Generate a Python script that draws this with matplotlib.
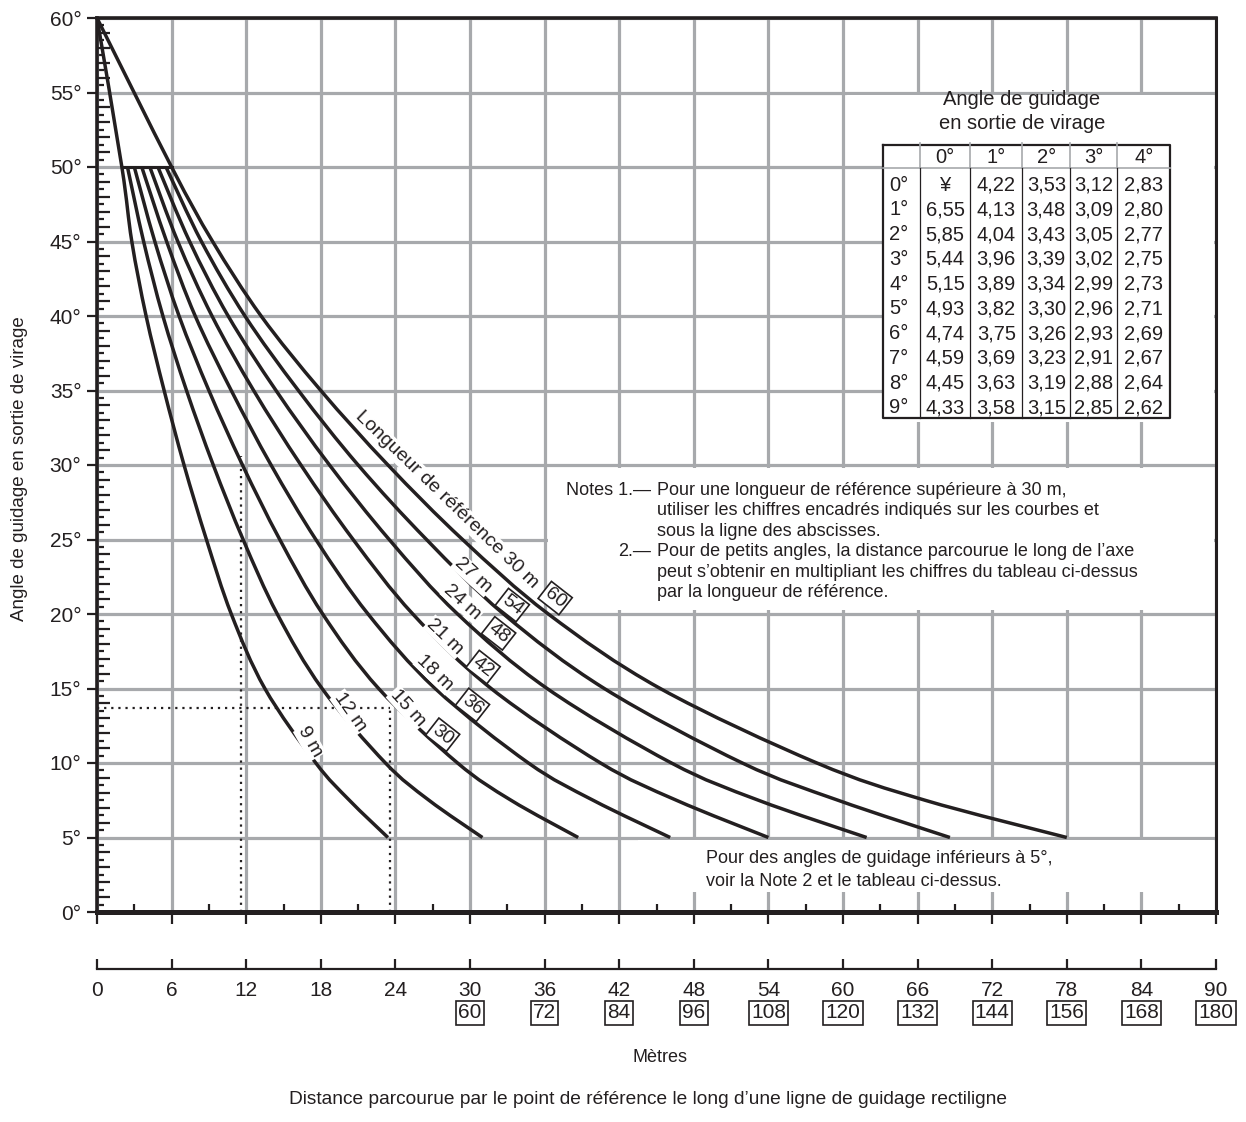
import numpy as np
import matplotlib
matplotlib.use('Agg')
import matplotlib.pyplot as plt
from matplotlib.patches import Rectangle, PathPatch
from matplotlib.path import Path
from matplotlib.ticker import MultipleLocator, FuncFormatter

plt.rcParams['font.family'] = ['Liberation Sans', 'DejaVu Sans']

INK = '#231f20'
GRID = '#a7a9ac'
FS_TICK = 15
FS_TEXT = 13
FS_TAB = 14.5
FS_LAB = 14

# guidance curves, angle (deg) -> distance travelled (m)
angles_full = [60, 50, 45, 40, 35, 30, 25, 20, 15, 10, 7.5, 5]
angles_bar = [50, 45, 40, 35, 30, 25, 20, 15, 10, 7.5, 5]
dist_9 = [0, 2.0, 2.8, 3.95, 5.4, 7.0, 8.8, 10.8, 13.5, 17.6, 20.3, 23.4]
dist_12 = [2.45, 3.75, 5.3, 7.2, 9.35, 11.75, 14.5, 18.1, 23.2, 26.7, 31.0]
dist_15 = [3.0, 4.65, 6.6, 9.0, 11.7, 14.7, 18.15, 22.65, 29.0, 33.3, 38.7]
dist_18 = [3.6, 5.6, 7.9, 10.8, 14.0, 17.6, 21.8, 27.2, 34.7, 39.9, 46.1]
dist_21 = [4.25, 6.5, 9.25, 12.6, 16.4, 20.6, 25.4, 31.7, 40.5, 46.6, 54.0]
dist_24 = [4.9, 7.45, 10.55, 14.4, 18.7, 23.5, 29.0, 36.2, 46.2, 53.2, 61.9]
dist_27 = [5.55, 8.4, 11.9, 16.2, 21.0, 26.5, 32.7, 40.8, 51.9, 59.6, 68.6]
dist_30 = [0, 6.0, 9.3, 13.2, 18.0, 23.4, 29.4, 36.3, 45.3, 57.9, 66.6, 78.0]
bar_x = [2.0, 6.0]
bar_angle = 50

# dotted example
ex_x1, ex_top1 = 11.6, 30.6
ex_x2, ex_angle2 = 23.6, 13.7

# table
table_cols = ['0°', '1°', '2°', '3°', '4°']
table_rows = ['0°', '1°', '2°', '3°', '4°', '5°', '6°', '7°', '8°', '9°']
table_vals = [
    ['¥', '4,22', '3,53', '3,12', '2,83'],
    ['6,55', '4,13', '3,48', '3,09', '2,80'],
    ['5,85', '4,04', '3,43', '3,05', '2,77'],
    ['5,44', '3,96', '3,39', '3,02', '2,75'],
    ['5,15', '3,89', '3,34', '2,99', '2,73'],
    ['4,93', '3,82', '3,30', '2,96', '2,71'],
    ['4,74', '3,75', '3,26', '2,93', '2,69'],
    ['4,59', '3,69', '3,23', '2,91', '2,67'],
    ['4,45', '3,63', '3,19', '2,88', '2,64'],
    ['4,33', '3,58', '3,15', '2,85', '2,62'],
]

x_ticks = list(range(0, 91, 6))
x_boxed = [60, 72, 84, 96, 108, 120, 132, 144, 156, 168, 180]


def smooth_path(xs, ys):
    """Catmull-Rom curve through the given points, as bezier path"""
    pts = np.column_stack([xs, ys]).astype(float)
    verts = [pts[0]]
    codes = [Path.MOVETO]
    n = len(pts)
    for i in range(n - 1):
        p0 = pts[i - 1] if i > 0 else pts[i]
        p1, p2 = pts[i], pts[i + 1]
        p3 = pts[i + 2] if i + 2 < n else pts[i + 1]
        verts += [p1 + (p2 - p0) / 6.0, p2 - (p3 - p1) / 6.0, p2]
        codes += [Path.CURVE4] * 3
    return Path(verts, codes)


fig = plt.figure(figsize=(12.46, 11.22), dpi=100)
ax = fig.add_axes([97 / 1246, 210 / 1122, 1119 / 1246, 894 / 1122])
ax.set_xlim(0, 90)
ax.set_ylim(0, 60)

ax.xaxis.set_major_locator(MultipleLocator(6))
ax.xaxis.set_minor_locator(MultipleLocator(3))
ax.yaxis.set_major_locator(MultipleLocator(5))
ax.yaxis.set_minor_locator(MultipleLocator(1))
ax.yaxis.set_major_formatter(FuncFormatter(lambda v, p: '{}°'.format(int(v))))
ax.grid(which='major', color=GRID, lw=2.3)
ax.set_axisbelow(True)
ax.tick_params(axis='x', which='major', direction='out', length=8.6, width=1.6,
               color=INK, labelbottom=False)
ax.tick_params(axis='x', which='minor', direction='in', length=5.8, width=1.6, color=INK)
ax.tick_params(axis='y', which='major', direction='out', length=7.2, width=1.6,
               color=INK, labelsize=FS_TICK, labelcolor=INK, pad=4)
ax.tick_params(axis='y', which='minor', direction='in', length=9.4, width=1.6, color=INK)
sec = ax.secondary_yaxis('left')
sec.set_yticks(np.arange(0.5, 60, 1))
sec.tick_params(direction='in', length=5, width=1.6, color=INK, labelleft=False)
sec.spines['left'].set_visible(False)

for side, lw in [('left', 2.6), ('bottom', 3.6), ('top', 2.6), ('right', 2.2)]:
    ax.spines[side].set_color(INK)
    ax.spines[side].set_linewidth(lw)

# white areas behind the notes and the table
for x0, y0, x1, y1 in [(60.3, 50.3, 89.85, 54.8), (63.2, 32.9, 89.85, 50.3),
                       (36.3, 20.25, 89.85, 29.8), (43.5, 1.35, 89.85, 4.85)]:
    ax.add_patch(Rectangle((x0, y0), x1 - x0, y1 - y0, fc='white', ec='none', zorder=1))

curves = [(dist_9, angles_full), (dist_12, angles_bar), (dist_15, angles_bar),
          (dist_18, angles_bar), (dist_21, angles_bar), (dist_24, angles_bar),
          (dist_27, angles_bar), (dist_30, angles_full)]
for d, a in curves:
    ax.add_patch(PathPatch(smooth_path(d, a), fc='none', ec=INK, lw=2.5,
                           capstyle='butt', zorder=2))
ax.plot(bar_x, [bar_angle, bar_angle], color=INK, lw=2.2, zorder=2)

dot = dict(color=INK, lw=1.6, ls=(0, (1, 2.2)), zorder=2)
ax.plot([ex_x1, ex_x1], [0, ex_top1], **dot)
ax.plot([0, ex_x2], [ex_angle2, ex_angle2], **dot)
ax.plot([ex_x2, ex_x2], [0, ex_angle2], **dot)

# curve labels
lab = dict(fontsize=FS_LAB, color=INK, ha='center', va='center', rotation_mode='anchor', zorder=3,
           bbox=dict(boxstyle='square,pad=0.05', fc='white', ec='none'))
box = dict(fontsize=FS_LAB, color=INK, ha='center', va='center', rotation_mode='anchor', zorder=3,
           bbox=dict(boxstyle='square,pad=0.12', fc='white', ec=INK, lw=1.2))
ax.text(28.1, 27.65, 'Longueur de référence 30 m', rotation=-44, **lab)
ax.text(36.85, 21.07, '60', rotation=-38, **box)
ax.text(30.25, 22.6, '27 m', rotation=-42, **lab)
ax.text(33.4, 20.6, '54', rotation=-38, **box)
ax.text(29.4, 20.8, '24 m', rotation=-42, **lab)
ax.text(32.3, 18.7, '48', rotation=-38, **box)
ax.text(28.0, 18.46, '21 m', rotation=-44, **lab)
ax.text(31.05, 16.44, '42', rotation=-38, **box)
ax.text(27.2, 16.04, '18 m', rotation=-44, **lab)
ax.text(30.2, 13.9, '36', rotation=-38, **box)
ax.text(25.0, 13.7, '15 m', rotation=-48, **lab)
ax.text(27.8, 11.9, '30', rotation=-38, **box)
ax.text(20.35, 13.4, '12 m', rotation=-55, **lab)
ax.text(17.1, 11.4, '9 m', rotation=-60, **lab)

# notes
notes = [('Notes 1.—', 'Pour une longueur de référence supérieure à 30 m,'),
         ('', 'utiliser les chiffres encadrés indiqués sur les courbes et'),
         ('', 'sous la ligne des abscisses.'),
         ('2.—', 'Pour de petits angles, la distance parcourue le long de l’axe'),
         ('', 'peut s’obtenir en multipliant les chiffres du tableau ci-dessus'),
         ('', 'par la longueur de référence.')]
for i, (head, body) in enumerate(notes):
    yy = 28.32 - i * 1.382
    if head:
        ax.text(44.55, yy, head, fontsize=FS_TEXT, color=INK, ha='right', va='center', zorder=3)
    ax.text(45.05, yy, body, fontsize=FS_TEXT, color=INK, ha='left', va='center', zorder=3)

ax.text(49.0, 3.62, 'Pour des angles de guidage inférieurs à 5°,', fontsize=FS_TEXT, color=INK,
        ha='left', va='center', zorder=3)
ax.text(49.0, 2.08, 'voir la Note 2 et le tableau ci-dessus.', fontsize=FS_TEXT, color=INK,
        ha='left', va='center', zorder=3)

# table
ax.text(74.4, 54.5, 'Angle de guidage', fontsize=FS_TAB, color=INK, ha='center', va='center', zorder=3)
ax.text(74.4, 52.9, 'en sortie de virage', fontsize=FS_TAB, color=INK, ha='center', va='center', zorder=3)
col_edges = [63.23, 66.21, 70.23, 74.42, 78.28, 82.06, 86.32]
t_top, t_head, t_bot = 51.48, 49.93, 33.15
ax.plot([col_edges[0], col_edges[-1], col_edges[-1], col_edges[0], col_edges[0]],
        [t_top, t_top, t_bot, t_bot, t_top], color=INK, lw=1.6, zorder=3)
ax.plot([col_edges[0], col_edges[-1]], [t_head, t_head], color=GRID, lw=1.2, zorder=3)
for xe in col_edges[1:-1]:
    ax.plot([xe, xe], [t_head, t_top + 0.15], color=GRID, lw=1.2, zorder=3)
    ax.plot([xe, xe], [t_bot, t_head], color=INK, lw=0.9, zorder=3)
for j, c in enumerate(table_cols):
    ax.text((col_edges[j + 1] + col_edges[j + 2]) / 2, 50.67, c, fontsize=FS_TAB, color=INK,
            ha='center', va='center', zorder=3)
for i, r in enumerate(table_rows):
    yy = 48.79 - i * 1.662
    ax.text(64.5, yy, r, fontsize=FS_TAB, color=INK, ha='center', va='center', zorder=3)
    for j, v in enumerate(table_vals[i]):
        ax.text((col_edges[j + 1] + col_edges[j + 2]) / 2, yy, v, fontsize=FS_TAB, color=INK,
                ha='center', va='center', zorder=3)

# second scale below the plot
ax2 = fig.add_axes([97 / 1246, (1122 - 969) / 1122, 1119 / 1246, 0.01])
ax2.set_xlim(0, 90)
ax2.patch.set_visible(False)
for side in ['top', 'left', 'right']:
    ax2.spines[side].set_visible(False)
ax2.spines['bottom'].set_color(INK)
ax2.spines['bottom'].set_linewidth(1.6)
ax2.set_yticks([])
ax2.set_xticks(x_ticks)
ax2.set_xticklabels([str(v) for v in x_ticks])
ax2.tick_params(axis='x', direction='in', length=7.2, width=1.6, color=INK,
                labelsize=FS_TICK, labelcolor=INK, pad=9)
for xv, bv in zip(x_ticks[5:], x_boxed):
    ax2.annotate(str(bv), xy=(xv, 0), xycoords=('data', 'axes fraction'), xytext=(0, -44),
                 textcoords='offset pixels', fontsize=FS_TICK, color=INK, ha='center', va='center',
                 bbox=dict(boxstyle='square,pad=0.1', fc='white', ec=INK, lw=1.2))

fig.text(660 / 1246, 1 - 1058 / 1122, 'Mètres', fontsize=FS_TEXT, color=INK, ha='center', va='center')
fig.text(648 / 1246, 1 - 1100 / 1122,
         'Distance parcourue par le point de référence le long d’une ligne de guidage rectiligne',
         fontsize=FS_TEXT + 0.8, color=INK, ha='center', va='center')
fig.text(20 / 1246, 1 - 469 / 1122, 'Angle de guidage en sortie de virage', fontsize=FS_TEXT + 0.5,
         color=INK, ha='center', va='center', rotation=90)

fig.savefig('out.png', dpi=100, facecolor='white')
